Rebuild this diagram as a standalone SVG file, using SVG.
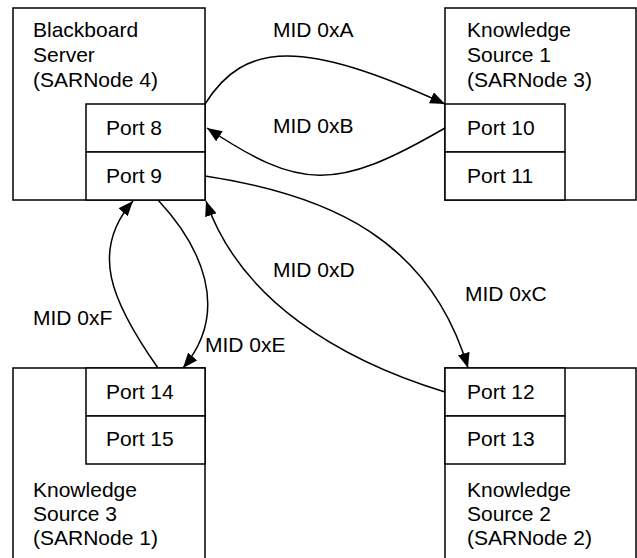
<svg xmlns="http://www.w3.org/2000/svg" width="637" height="558" viewBox="0 0 637 558">
<style>
.box{fill:#fff;stroke:#000;stroke-width:1.5}
.t{font-family:"Liberation Sans",Arial,sans-serif;font-size:21px;fill:#000}
.c{fill:none;stroke:#000;stroke-width:1.5}
</style>
<defs>
<marker id="ah" markerUnits="userSpaceOnUse" markerWidth="16" markerHeight="12" refX="15" refY="6" orient="auto">
<path d="M0,0 L15,6 L0,12 z" fill="#000"/>
</marker>
</defs>
<rect width="637" height="558" fill="#fff"/>
<g id="bb">
<rect class="box" x="13" y="8" width="192" height="192"/>
<rect class="box" x="86" y="104" width="119" height="48"/>
<rect class="box" x="86" y="152" width="119" height="48"/>
<text class="t" x="33" y="37">Blackboard</text>
<text class="t" x="33" y="62">Server</text>
<text class="t" x="33" y="86.5">(SARNode 4)</text>
<text class="t" x="106" y="135">Port 8</text>
<text class="t" x="106" y="183">Port 9</text>
</g>
<g id="ks1">
<rect class="box" x="445" y="8" width="191" height="192"/>
<rect class="box" x="445" y="104" width="120" height="48"/>
<rect class="box" x="445" y="152" width="120" height="48"/>
<text class="t" x="467" y="37">Knowledge</text>
<text class="t" x="467" y="62">Source 1</text>
<text class="t" x="467" y="86.5">(SARNode 3)</text>
<text class="t" x="467" y="135">Port 10</text>
<text class="t" x="467" y="183">Port 11</text>
</g>
<g id="ks3">
<rect class="box" x="13" y="368" width="192" height="192"/>
<rect class="box" x="86" y="368" width="119" height="48"/>
<rect class="box" x="86" y="416" width="119" height="48"/>
<text class="t" x="106" y="398.5">Port 14</text>
<text class="t" x="106" y="446">Port 15</text>
<text class="t" x="33" y="497">Knowledge</text>
<text class="t" x="33" y="521">Source 3</text>
<text class="t" x="33" y="545">(SARNode 1)</text>
</g>
<g id="ks2">
<rect class="box" x="445" y="368" width="191" height="192"/>
<rect class="box" x="445" y="368" width="120" height="48"/>
<rect class="box" x="445" y="416" width="120" height="48"/>
<text class="t" x="467" y="398.5">Port 12</text>
<text class="t" x="467" y="446">Port 13</text>
<text class="t" x="467" y="497">Knowledge</text>
<text class="t" x="467" y="521">Source 2</text>
<text class="t" x="467" y="545">(SARNode 2)</text>
</g>
<g id="connectors">
<path class="c" d="M205,104 C245,40 305,40 445,104" marker-end="url(#ah)"/>
<path class="c" d="M445,128 C335,192 300,190 207,128" marker-end="url(#ah)"/>
<path class="c" d="M205,176 C330,195 430,240 468,368" marker-end="url(#ah)"/>
<path class="c" d="M445,392 C340,360 240,300 206,201" marker-end="url(#ah)"/>
<path class="c" d="M158,200 C200,245 232,310 183,368" marker-end="url(#ah)"/>
<path class="c" d="M158,368 C110,300 90,250 133,201" marker-end="url(#ah)"/>
</g>
<g id="labels">
<text class="t" x="273" y="37">MID 0xA</text>
<text class="t" x="273" y="133">MID 0xB</text>
<text class="t" x="465" y="301">MID 0xC</text>
<text class="t" x="273" y="277">MID 0xD</text>
<text class="t" x="205" y="352">MID 0xE</text>
<text class="t" x="33" y="325">MID 0xF</text>
</g>
</svg>
